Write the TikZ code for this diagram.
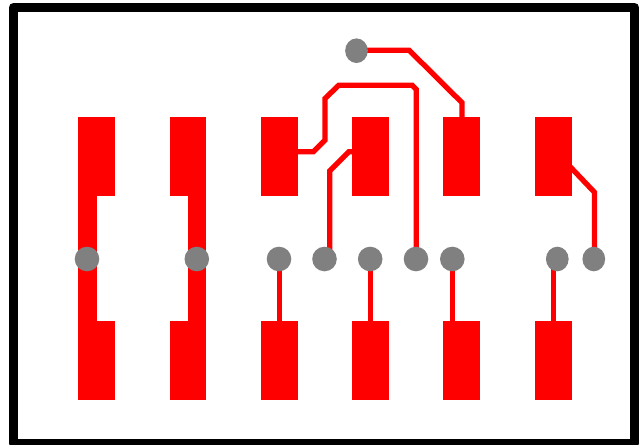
\documentclass[tikz,border=0pt]{standalone}
\usetikzlibrary{shapes.geometric,backgrounds}
\definecolor{viagray}{HTML}{808080}
\tikzset{
  x=1pt,y=-1pt,
  pad/.style={rectangle,fill=red,draw=none,inner sep=0pt,outer sep=0pt,minimum width=36.7pt,minimum height=79.2pt},
  via/.style={ellipse,fill=viagray,draw=none,inner sep=0pt,outer sep=0pt,minimum width=24.6pt,minimum height=24.6pt},
  narrowvia/.style={via,minimum width=22.7pt},
  trace/.style={draw=red,line width=5.3pt,line join=miter},
  widetrace/.style={draw=red,line width=18.4pt},
  frame/.style={draw=black,line width=9pt,line join=round}
}
\begin{document}
\begin{tikzpicture}
\useasboundingbox (0,0) rectangle (641,445);
\clip (0,0) rectangle (641,445);
% top pads
\node[pad] (t1) at (96.7,156.7) {};
\node[pad] (t2) at (188,156.7) {};
\node[pad] (t3) at (279.3,156.7) {};
\node[pad] (t4) at (370.7,156.7) {};
\node[pad] (t5) at (461.8,156.7) {};
\node[pad] (t6) at (553.3,156.7) {};
% bottom pads
\node[pad] (b1) at (96.7,360.2) {};
\node[pad] (b2) at (188,360.2) {};
\node[pad] (b3) at (279.3,360.2) {};
\node[pad] (b4) at (370.7,360.2) {};
\node[pad] (b5) at (461.8,360.2) {};
\node[pad] (b6) at (553.3,360.2) {};
% vias
\node[via] (v1) at (87,259) {};
\node[via] (v2) at (196.8,259) {};
\node[via] (v3) at (279,259) {};
\node[via] (v4) at (324.5,259) {};
\node[via] (v5) at (370.2,259) {};
\node[via] (v6) at (416,259) {};
\node[via] (v7) at (452.3,259) {};
\node[narrowvia] (v8) at (557.3,259) {};
\node[narrowvia] (v9) at (593.8,259) {};
\node[narrowvia] (v0) at (356.5,50.7) {};
% trace route points
\coordinate (w1t) at (87.5,190);
\coordinate (w1b) at (87.5,330);
\coordinate (w2t) at (197.2,190);
\coordinate (w2b) at (197.2,330);
\coordinate (a0) at (356.5,50.3);
\coordinate (a1) at (409.2,50.3);
\coordinate (a2) at (462,102.7);
\coordinate (a3) at (462,120);
\coordinate (c0) at (297,151.7);
\coordinate (c1) at (313.5,151.7);
\coordinate (c2) at (325,140.2);
\coordinate (c3) at (325,98.5);
\coordinate (c4) at (338.7,85.3);
\coordinate (c5) at (412.3,85.3);
\coordinate (c6) at (416.3,89.5);
\coordinate (c7) at (416.3,259);
\coordinate (d0) at (353,151.7);
\coordinate (d1) at (349,151.7);
\coordinate (d2) at (329.7,171);
\coordinate (d3) at (329.7,259);
\coordinate (e0) at (568,164.5);
\coordinate (e1) at (594.5,192.3);
\coordinate (e2) at (594.5,259);
\coordinate (f3a) at (279.3,259);
\coordinate (f3b) at (279.3,325);
\coordinate (f5a) at (370.7,259);
\coordinate (f5b) at (370.7,325);
\coordinate (f7a) at (452.7,259);
\coordinate (f7b) at (452.7,325);
\coordinate (f8a) at (553.3,259);
\coordinate (f8b) at (553.3,325);
\begin{scope}[on background layer]
  \fill[white] (0,0) rectangle (641,445);
  \draw[widetrace] (w1t) -- (w1b);
  \draw[widetrace] (w2t) -- (w2b);
  \draw[trace] (a0) -- (a1) -- (a2) -- (a3);
  \draw[trace] (c0) -- (c1) -- (c2) -- (c3) -- (c4) -- (c5) -- (c6) -- (c7);
  \draw[trace] (d0) -- (d1) -- (d2) -- (d3);
  \draw[trace] (e0) -- (e1) -- (e2);
  \draw[trace] (f3a) -- (f3b);
  \draw[trace] (f5a) -- (f5b);
  \draw[trace] (f7a) -- (f7b);
  \draw[trace] (f8a) -- (f8b);
\end{scope}
% board outline
\draw[frame] (13.5,7.5) rectangle (634.5,443.5);
\end{tikzpicture}
\end{document}
